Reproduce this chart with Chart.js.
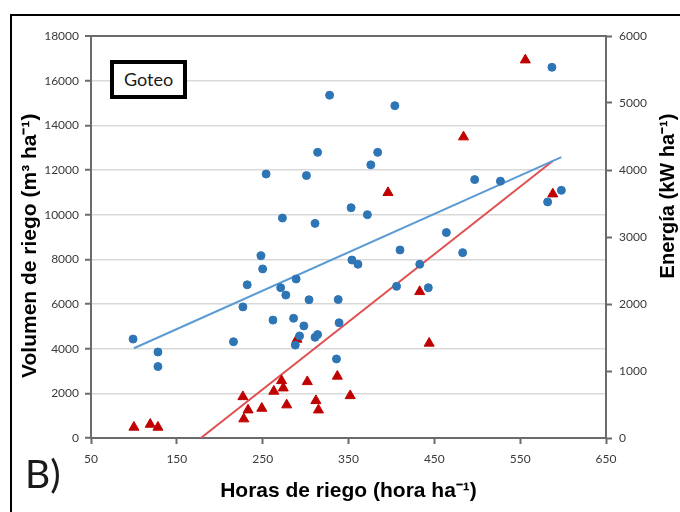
<!DOCTYPE html>
<html>
<head>
<meta charset="utf-8">
<script src="https://cdn.jsdelivr.net/npm/chart.js@4.4.1/dist/chart.umd.min.js"></script>
<style>
  html, body { margin: 0; padding: 0; background: #fff; overflow: hidden; }
  #wrap { position: relative; width: 680px; height: 512px; }
  #frame { position: absolute; left: 10px; top: 14px; width: 720px; height: 560px; border: 2px solid #000; }
  #chart { position: absolute; left: 0; top: 0; }
  #goteo {
    position: absolute; left: 110px; top: 60px; width: 69px; height: 31px;
    border: 4px solid #000; background: #fff;
    font: 18px Lato, sans-serif; color: #1a1a1a;
    line-height: 31px; text-align: center;
  }
  #panel { position: absolute; left: 25px; top: 450px; font: 39px Lato, sans-serif; color: #1a1a1a; }
</style>
</head>
<body>
<div id="wrap">
  <div id="frame"></div>
  <canvas id="chart" width="680" height="512"></canvas>
  <div id="goteo">Goteo</div>
  <div id="panel">B)</div>
</div>
<script>
// Goteo: volumen (circulos) y energia (triangulos) vs horas de riego
const volHours = [99, 128, 128, 216, 227, 232, 248, 250, 254, 262, 271, 273, 277, 289, 286, 298,
  293, 288, 304, 301, 311, 314, 311, 314, 328, 338, 339, 336, 353, 354, 361, 372, 376, 384,
  404, 406, 410, 433, 443, 464, 483, 497, 527, 582, 587, 598];
const volValues = [4430, 3850, 3200, 4310, 5870, 6860, 8160, 7570, 11820, 5280, 6730, 9850, 6400,
  7120, 5360, 5020, 4570, 4160, 6190, 11750, 4510, 4630, 9610, 12790, 15350, 6200, 5160, 3540,
  10310, 7970, 7780, 10000, 12230, 12790, 14880, 6790, 8420, 7780, 6730, 9200, 8300, 11570,
  11500, 10570, 16600, 11090];

const energyHours = [100, 119, 128, 227, 228, 233, 249, 263, 272, 274, 278, 290, 302, 312, 315,
  337, 352, 396, 433, 444, 484, 556, 588];
const energyValues = [160, 204, 160, 616, 284, 418, 443, 697, 855, 746, 493, 1473, 840, 557, 418,
  922, 631, 3662, 2184, 1414, 4493, 5642, 3642];

// lineas de tendencia (extremos)
const volTrendHours = [100, 598];
const volTrendValues = [4020, 12580];
const energyTrendHours = [178, 588];
const energyTrendValues = [0, 4135];

const xTicks = [50, 150, 250, 350, 450, 550, 650];

const toPoints = (xs, ys) => xs.map((x, i) => ({ x: x, y: ys[i] }));

const axisColor = '#6b6b6b';
const tickFont = { family: 'Lato', size: 12 };
const titleFont = { family: 'Liberation Sans', size: 21, weight: 'bold' };
const plain = v => String(v);

// Titulo del eje derecho (se lee de abajo hacia arriba)
const rightTitle = {
  id: 'rightTitle',
  afterDraw(chart) {
    const ctx = chart.ctx;
    ctx.save();
    ctx.translate(668, 196);
    ctx.rotate(-Math.PI / 2);
    ctx.font = 'bold 20px "Liberation Sans"';
    ctx.fillStyle = '#000';
    ctx.textAlign = 'center';
    ctx.textBaseline = 'middle';
    ctx.fillText('Energía (kW ha⁻¹)', 0, 0);
    ctx.restore();
  }
};

new Chart(document.getElementById('chart'), {
  type: 'scatter',
  data: {
    datasets: [
      {
        label: 'Volumen',
        data: toPoints(volHours, volValues),
        yAxisID: 'y',
        backgroundColor: '#2e75b6',
        borderColor: '#2e75b6',
        pointRadius: 4,
        pointStyle: 'circle',
        order: 1
      },
      {
        label: 'Energía',
        data: toPoints(energyHours, energyValues),
        yAxisID: 'y2',
        backgroundColor: '#c00000',
        borderColor: '#c00000',
        pointRadius: 5.8,
        pointStyle: 'triangle',
        order: 2
      },
      {
        label: 'Tendencia volumen',
        type: 'line',
        data: toPoints(volTrendHours, volTrendValues),
        yAxisID: 'y',
        borderColor: '#5b9bd5',
        borderWidth: 2,
        pointRadius: 0,
        order: 3
      },
      {
        label: 'Tendencia energía',
        type: 'line',
        data: toPoints(energyTrendHours, energyTrendValues),
        yAxisID: 'y2',
        borderColor: '#e05050',
        borderWidth: 2,
        pointRadius: 0,
        order: 4
      }
    ]
  },
  options: {
    responsive: false,
    animation: false,
    devicePixelRatio: 1,
    layout: { padding: { top: 36, left: 0, right: 0, bottom: 0 } },
    plugins: {
      legend: { display: false },
      tooltip: { enabled: false }
    },
    scales: {
      x: {
        type: 'linear',
        min: 50,
        max: 650,
        afterBuildTicks: s => { s.ticks = xTicks.map(v => ({ value: v })); },
        afterFit: s => { s.height = 74; },
        grid: { drawOnChartArea: false, tickLength: 6, tickColor: axisColor, tickWidth: 2 },
        border: { color: axisColor, width: 2 },
        ticks: { font: tickFont, color: '#3a3a3a', padding: 8, maxRotation: 0, callback: plain },
        title: {
          display: true,
          text: 'Horas de riego (hora ha⁻¹)',
          font: titleFont,
          color: '#000',
          padding: { top: 0, bottom: 8 }
        }
      },
      y: {
        position: 'left',
        min: 0,
        max: 18000,
        ticks: { stepSize: 2000, font: tickFont, color: '#3a3a3a', padding: 6, callback: plain },
        afterFit: s => { s.width = 91; },
        grid: {
          color: c => (c.tick && c.tick.value === 18000 ? axisColor : '#d9d9d9'),
          lineWidth: c => (c.tick && c.tick.value === 18000 ? 2 : 1.5),
          tickLength: 6,
          tickColor: axisColor,
          tickWidth: 2
        },
        border: { color: axisColor, width: 2 },
        title: {
          display: true,
          // trailing spaces nudge the centred text down, as in the figure
          text: 'Volumen de riego (m³ ha⁻¹)   ',
          font: titleFont,
          color: '#000',
          padding: { top: 18, bottom: 0 }
        }
      },
      y2: {
        position: 'right',
        min: 0,
        max: 6000,
        ticks: { stepSize: 1000, font: tickFont, color: '#3a3a3a', padding: 7, callback: plain },
        afterFit: s => { s.width = 74; },
        grid: { drawOnChartArea: false, tickLength: 6, tickColor: axisColor, tickWidth: 2 },
        border: { color: axisColor, width: 2 }
      }
    }
  },
  plugins: [rightTitle]
});
</script>
</body>
</html>
